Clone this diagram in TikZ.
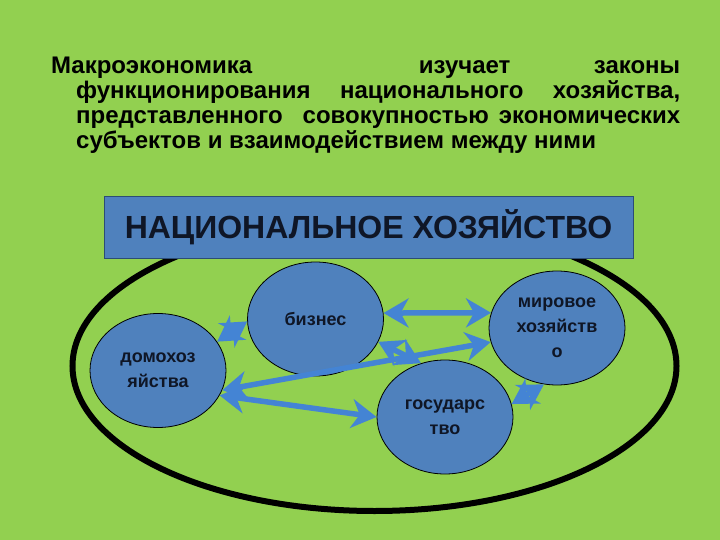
\documentclass[tikz,border=0pt]{standalone}
\usepackage{fontspec}
\setmainfont{Liberation Sans}
\usetikzlibrary{shapes.geometric,arrows.meta,decorations.markings}
\definecolor{bg}{HTML}{92D050}
\definecolor{boxblue}{HTML}{4F81BD}
\definecolor{arrowblue}{RGB}{68,132,212}
\definecolor{boxline}{HTML}{2C4D75}
\definecolor{txt}{HTML}{0F1626}
\tikzset{
  headtip/.tip={Stealth[length=25pt,width=29pt,inset=8pt]},
}
\begin{document}
\begin{tikzpicture}[x=1pt,y=-1pt,
  unit/.style={ellipse, draw=black, line width=0.8pt, fill=boxblue,
    minimum width=136pt, minimum height=114pt, inner sep=0pt, align=center,
    font=\fontsize{18}{25}\selectfont\bfseries, text=txt},
  link/.style={draw=arrowblue, line width=5.5pt, shorten <=12pt, shorten >=12pt,
    postaction={decorate},
    decoration={markings,
      mark=at position 0 with {\arrowreversed[arrowblue]{headtip}},
      mark=at position 1 with {\arrow[arrowblue]{headtip}}}}]
\fill[bg] (0,0) rectangle (720,540);
\useasboundingbox (0,0) rectangle (720,540);
\node[anchor=base west, inner sep=0pt] (intro) at (51,74)
  {\parbox[t]{629pt}{\fontsize{24}{25}\selectfont\bfseries
   \hangindent=25pt\hangafter=1\noindent Макроэкономика \ изучает законы\linebreak
   функционирования национального хозяйства,\linebreak
   представленного \ совокупностью экономических\linebreak
   субъектов и взаимодействием между ними}};
\node[ellipse, draw=black, line width=6pt, minimum width=604pt, minimum height=290pt,
  inner sep=0pt] (economy) at (374.5,366) {};
\node[draw=boxline, line width=1pt, fill=boxblue, minimum width=529pt, minimum height=61pt,
  inner sep=0pt, text=txt, font=\fontsize{32}{33}\selectfont\bfseries] (title) at (368.5,227.5)
  {НАЦИОНАЛЬНОЕ ХОЗЯЙСТВО};
\node[unit] (home) at (158,370.5) {домохоз\\яйства};
\node[unit] (biz) at (315.5,319) {бизнес};
\node[unit] (world) at (557,328) {мировое\\хозяйств\\о};
\node[unit] (state) at (445,417) {государс\\тво};
\draw[link] (biz.5) -- (world.167.7);
\draw[link] (home.-17.3) -- (world.-168.5);
\draw[link] (home.-22.2) -- (state.180);
\draw[link] (home.26.8) -- (biz.182.2);
\draw[link] (state.11.6) -- (world.257.6);
\draw[link] (biz.-20.4) -- (state.114.8);
\end{tikzpicture}
\end{document}
